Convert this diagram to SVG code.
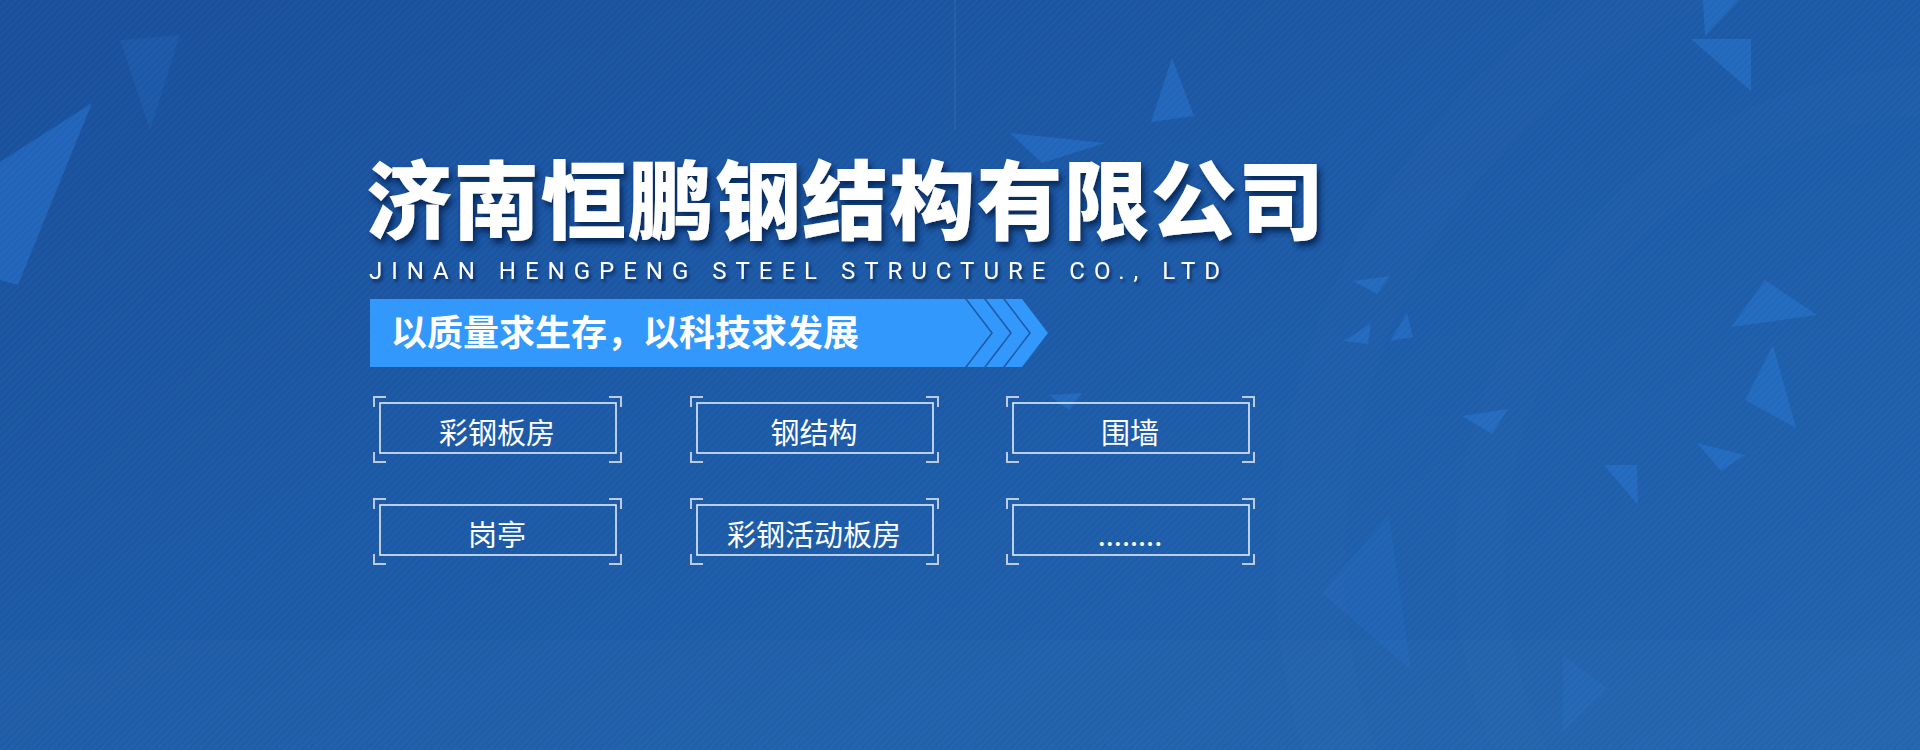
<svg xmlns="http://www.w3.org/2000/svg" width="1920" height="750" viewBox="0 0 1920 750">
<defs>
<linearGradient id="bg" x1="0" y1="0" x2="1" y2="1">
<stop offset="0" stop-color="#194f9c"/>
<stop offset="0.5" stop-color="#1c5aa7"/>
<stop offset="1" stop-color="#2063ae"/>
</linearGradient>
<pattern id="stripes" width="5" height="5" patternUnits="userSpaceOnUse" patternTransform="rotate(-45)">
<rect width="5" height="2" fill="#ffffff" fill-opacity="0.025"/>
</pattern>
<filter id="shadow" x="-10%" y="-20%" width="120%" height="150%">
<feDropShadow dx="3" dy="5" stdDeviation="3" flood-color="#06214d" flood-opacity="0.85"/>
</filter>
<filter id="shadowS" x="-5%" y="-50%" width="110%" height="200%">
<feDropShadow dx="2" dy="3" stdDeviation="1.5" flood-color="#06214d" flood-opacity="0.8"/>
</filter>
</defs>
<style>
.tri{fill:#2a7ad6;fill-opacity:0.45}
.tri2{fill:#2a7ad6;fill-opacity:0.18}
.box{fill:none;stroke:#e3ecf7;stroke-width:1.6}
.brk{fill:none;stroke:#bccbdf;stroke-width:2}
.lbl{font-family:"Noto Sans CJK SC","Noto Sans",sans-serif;font-size:29px;fill:#ffffff;text-anchor:middle}
</style>
<g id="background">
<rect width="1920" height="750" fill="url(#bg)"/>
<rect y="640" width="1920" height="110" fill="#ffffff" fill-opacity="0.015"/>
<circle cx="1950" cy="560" r="640" fill="none" stroke="#ffffff" stroke-opacity="0.012" stroke-width="70"/>
<circle cx="1950" cy="560" r="470" fill="none" stroke="#ffffff" stroke-opacity="0.01" stroke-width="50"/>
<line x1="955" y1="0" x2="955" y2="130" stroke="#ffffff" stroke-opacity="0.05" stroke-width="2"/>
<polygon class="tri" points="0,162 92,103 18,285 0,280"/>
<polygon class="tri2" points="120,40 180,35 150,130"/>
<polygon class="tri" points="1010,133 1105,143 1042,163"/>
<polygon class="tri" points="1172,58 1194,116 1151,122"/>
<polygon class="tri" points="1049,395 1082,393 1069,410"/>
<polygon class="tri" points="1703,0 1739,0 1705,36"/>
<polygon class="tri" points="1691,39 1751,39 1751,91"/>
<polygon class="tri" points="1353,281 1390,276 1377,294"/>
<polygon class="tri" points="1344,341 1371,323 1368,344"/>
<polygon class="tri" points="1390,341 1407,313 1413,337"/>
<polygon class="tri" points="1731,327 1765,280 1817,315"/>
<polygon class="tri" points="1745,400 1773,345 1796,428"/>
<polygon class="tri" points="1462,416 1508,409 1492,434"/>
<polygon class="tri" points="1697,443 1745,455 1721,471"/>
<polygon class="tri" points="1604,465 1637,465 1638,505"/>
<polygon class="tri2" points="1322,593 1389,514 1411,670"/>
<polygon class="tri2" points="1563,655 1608,689 1563,732"/>
<rect width="1920" height="750" fill="url(#stripes)"/>
</g>
<g id="title">
<text x="366" y="233" font-family="Noto Sans CJK SC, sans-serif" font-weight="900" font-size="86" fill="#ffffff" textLength="958" lengthAdjust="spacing" filter="url(#shadow)">济南恒鹏钢结构有限公司</text>
<text x="369" y="279" font-family="Roboto, sans-serif" font-size="24" fill="#ffffff" textLength="851" lengthAdjust="spacing" filter="url(#shadowS)">JINAN HENGPENG STEEL STRUCTURE CO., LTD</text>
</g>
<g id="slogan">
<polygon points="370,299 965,299 991,333 965,367 370,367" fill="#3398fb"/>
<polygon points="967,299 984,299 1010,333 984,367 967,367 993,333" fill="#3398fb"/>
<polygon points="986,299 1003,299 1029,333 1003,367 986,367 1012,333" fill="#3398fb"/>
<polygon points="1005,299 1022,299 1048,333 1022,367 1005,367 1031,333" fill="#3398fb"/>
<text x="391" y="346" font-family="Noto Sans CJK SC, sans-serif" font-weight="700" font-size="36" fill="#ffffff">以质量求生存，以科技求发展</text>
</g>
<defs>
<g id="frame">
<rect class="box" x="6" y="6" width="236" height="50"/>
<path class="brk" d="M0,10 V0 H12 M235,0 H247 V10 M247,55 V65 H235 M12,65 H0 V55"/>
</g>
</defs>
<g id="item1" transform="translate(374,397)"><use href="#frame"/><text class="lbl" x="123" y="47">彩钢板房</text></g>
<g id="item2" transform="translate(691,397)"><use href="#frame"/><text class="lbl" x="123" y="47">钢结构</text></g>
<g id="item3" transform="translate(1007,397)"><use href="#frame"/><text class="lbl" x="123" y="47">围墙</text></g>
<g id="item4" transform="translate(374,499)"><use href="#frame"/><text class="lbl" x="123" y="47">岗亭</text></g>
<g id="item5" transform="translate(691,499)"><use href="#frame"/><text class="lbl" x="123" y="47">彩钢活动板房</text></g>
<g id="item6" transform="translate(1007,499)"><use href="#frame"/><text class="lbl" x="123" y="47">........</text></g>
<g id="connectors"/>
</svg>
